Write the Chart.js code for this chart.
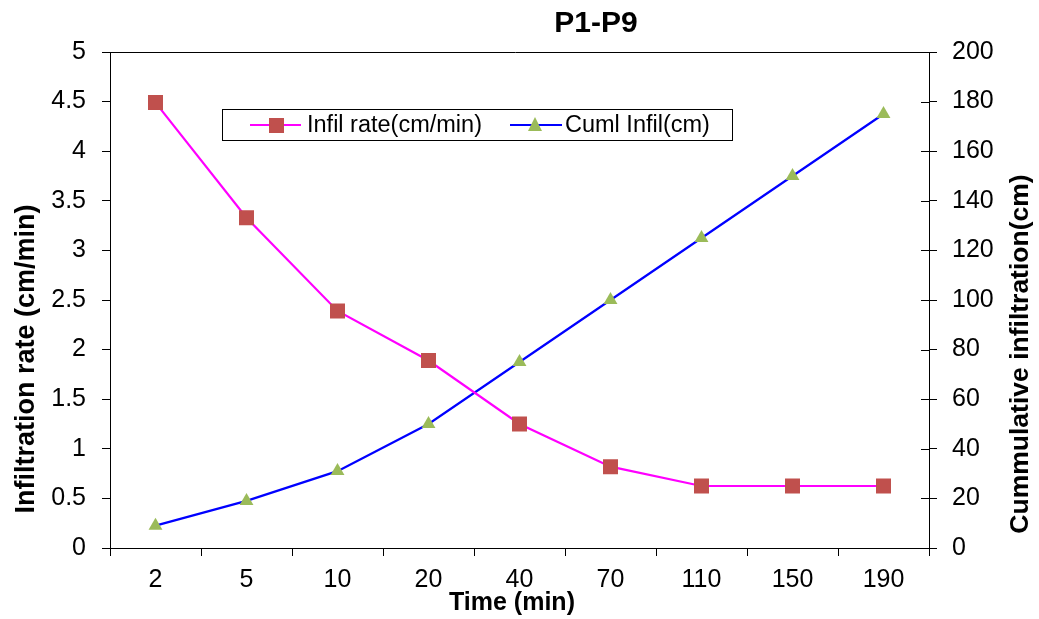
<!DOCTYPE html>
<html>
<head>
<meta charset="utf-8">
<script src="https://cdn.jsdelivr.net/npm/chart.js@4"></script>
<style>
html,body{margin:0;padding:0;background:#fff;}
#wrap{width:1039px;height:619px;position:relative;}
</style>
</head>
<body>
<div id="wrap"><canvas id="c" width="1039" height="619"></canvas></div>
<script>
const timeLabels = ['2','5','10','20','40','70','110','150','190'];
const infilRate = [4.49, 3.33, 2.39, 1.89, 1.25, 0.82, 0.625, 0.625, 0.625];
const cumlInfil = [9, 19, 31, 50, 75, 100, 125, 150, 175];
const chartTitle = 'P1-P9';
const seriesNames = ['Infil rate(cm/min)', 'Cuml Infil(cm)'];
const xTitle = 'Time (min)';
const yTitle = 'Infiltration rate (cm/min)';
const y1Title = 'Cummulative infiltration(cm)';

const FONT = 'Arial, "Liberation Sans", sans-serif';

const decor = {
  id: 'decor',
  afterDraw(chart) {
    const ctx = chart.ctx;
    const a = chart.chartArea;
    ctx.save();
    // top border
    ctx.strokeStyle = '#000';
    ctx.lineWidth = 1;
    ctx.beginPath();
    ctx.moveTo(a.left - 8, Math.round(a.top) + 0.5);
    ctx.lineTo(a.right, Math.round(a.top) + 0.5);
    ctx.stroke();
    // right axis inner tick halves
    const y1 = chart.scales.y1;
    ctx.beginPath();
    y1.ticks.forEach((t, i) => {
      const yy = Math.round(y1.getPixelForTick(i)) + 0.5;
      ctx.moveTo(a.right - 8, yy);
      ctx.lineTo(a.right, yy);
    });
    ctx.stroke();
    // title
    ctx.fillStyle = '#000';
    ctx.font = 'bold 30px ' + FONT;
    ctx.textAlign = 'center';
    ctx.textBaseline = 'middle';
    ctx.fillText(chartTitle, 596, 24);
    // axis titles
    ctx.font = 'bold 25px ' + FONT;
    ctx.fillText(xTitle, 512, 603);
    ctx.save();
    ctx.translate(27, 359);
    ctx.rotate(-Math.PI / 2);
    ctx.font = 'bold 27px ' + FONT;
    ctx.fillText(yTitle, 0, 0);
    ctx.restore();
    ctx.save();
    ctx.translate(1021, 354);
    ctx.rotate(-Math.PI / 2);
    ctx.font = 'bold 26.5px ' + FONT;
    ctx.fillText(y1Title, 0, 0);
    ctx.restore();
    // legend
    const lx = 222, ly = 109, lw = 510, lh = 31;
    ctx.fillStyle = '#fff';
    ctx.fillRect(lx, ly, lw, lh);
    ctx.strokeStyle = '#000';
    ctx.strokeRect(lx + 0.5, ly + 0.5, lw, lh);
    const cy = ly + 16;
    ctx.lineWidth = 2;
    ctx.strokeStyle = '#FF00FF';
    ctx.beginPath(); ctx.moveTo(250, cy); ctx.lineTo(301, cy); ctx.stroke();
    ctx.fillStyle = '#C0504D';
    ctx.fillRect(269, cy - 7, 15, 15);
    ctx.strokeStyle = '#0000FF';
    ctx.beginPath(); ctx.moveTo(510, cy); ctx.lineTo(562, cy); ctx.stroke();
    ctx.fillStyle = '#9BBB59';
    ctx.beginPath();
    ctx.moveTo(535, cy - 8); ctx.lineTo(542, cy + 6); ctx.lineTo(528, cy + 6); ctx.closePath();
    ctx.fill();
    ctx.fillStyle = '#000';
    ctx.font = '23.5px ' + FONT;
    ctx.textAlign = 'left';
    ctx.fillText(seriesNames[0], 307, cy + 1);
    ctx.fillText(seriesNames[1], 565, cy + 1);
    ctx.restore();
  }
};

new Chart(document.getElementById('c'), {
  type: 'line',
  data: {
    labels: timeLabels,
    datasets: [
      {
        label: seriesNames[0],
        data: infilRate,
        yAxisID: 'y',
        borderColor: '#FF00FF',
        borderWidth: 2.2,
        pointStyle: 'rect',
        pointRadius: 10.6,
        pointBackgroundColor: '#C0504D',
        pointBorderColor: '#C0504D',
        pointBorderWidth: 0,
        tension: 0
      },
      {
        label: seriesNames[1],
        data: cumlInfil,
        yAxisID: 'y1',
        borderColor: '#0000FF',
        borderWidth: 2.2,
        pointStyle: 'triangle',
        pointRadius: 8,
        pointBackgroundColor: '#9BBB59',
        pointBorderColor: '#9BBB59',
        pointBorderWidth: 0,
        tension: 0
      }
    ]
  },
  options: {
    responsive: false,
    animation: false,
    layout: { padding: { top: 52, left: 0, right: 0, bottom: 0 } },
    plugins: { legend: { display: false }, title: { display: false }, tooltip: { enabled: false } },
    scales: {
      x: {
        type: 'category',
        offset: true,
        grid: { offset: true, drawOnChartArea: false, tickLength: 8, color: '#000' },
        border: { color: '#000', width: 1 },
        ticks: { color: '#000', font: { family: FONT, size: 25 }, padding: 9, maxRotation: 0, autoSkip: false },
        title: { display: false, text: xTitle },
        afterFit(s) { s.height = 71; }
      },
      y: {
        position: 'left',
        min: 0, max: 5,
        grid: { drawOnChartArea: false, tickLength: 8, color: '#000' },
        border: { color: '#000', width: 1 },
        ticks: { stepSize: 0.5, color: '#000', font: { family: FONT, size: 25 }, padding: 16, callback: v => String(v) },
        title: { display: false, text: yTitle },
        afterFit(s) { s.width = 110; }
      },
      y1: {
        position: 'right',
        min: 0, max: 200,
        grid: { drawOnChartArea: false, tickLength: 8, color: '#000' },
        border: { color: '#000', width: 1 },
        ticks: { stepSize: 20, color: '#000', font: { family: FONT, size: 25 }, padding: 15 },
        title: { display: false, text: y1Title },
        afterFit(s) { s.width = 110; }
      }
    }
  },
  plugins: [decor]
});
</script>
</body>
</html>
